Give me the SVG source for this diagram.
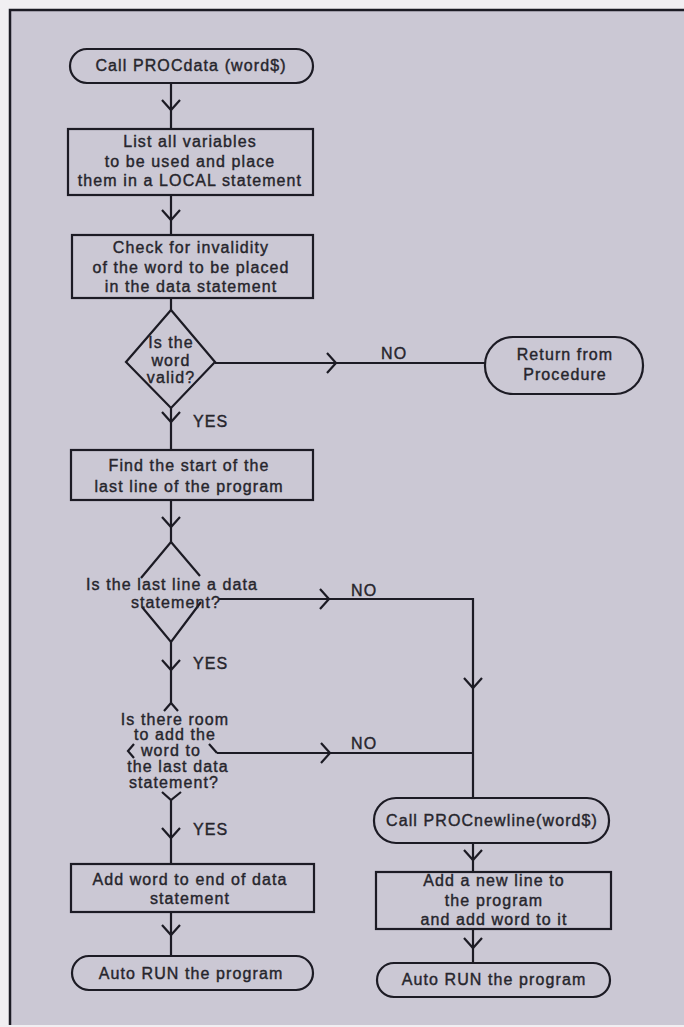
<svg xmlns="http://www.w3.org/2000/svg" xmlns:xlink="http://www.w3.org/1999/xlink" width="684" height="1027" viewBox="0 0 684 1027">
<style>
  .shape { fill: none; stroke: #1c1b24; stroke-width: 2.2; }
  .line { fill: none; stroke: #1c1b24; stroke-width: 2.2; }
  .chev { fill: none; stroke: #1c1b24; stroke-width: 2.2; stroke-linejoin: miter; }
  text { font-family: "Liberation Sans", Arial, sans-serif; font-size: 16px; letter-spacing: 1.1px; fill: #26252c; stroke: #26252c; stroke-width: 0.4; text-anchor: middle; }
  .lbl { text-anchor: start; }
</style>
<defs>
  <path id="chev-down" d="M-9,-10 L0,0 L9,-10" class="chev"/>
  <path id="chev-right" d="M-9,-10 L0,0 L-9,10" class="chev"/>
</defs>
<rect x="0" y="0" width="684" height="1027" fill="#f1eff2"/>
<rect x="10" y="10" width="674" height="1015" fill="#cbc8d4"/>
<path d="M10,1025 L10,10 L684,10" fill="none" stroke="#1c1b24" stroke-width="2.5"/>

<g id="connectors">
  <line class="line" x1="171" y1="83" x2="171" y2="129"/>
  <use xlink:href="#chev-down" x="171" y="110"/>
  <line class="line" x1="171" y1="195" x2="171" y2="235"/>
  <use xlink:href="#chev-down" x="171" y="220"/>
  <line class="line" x1="171" y1="298" x2="171" y2="310"/>
  <line class="line" x1="171" y1="408" x2="171" y2="450"/>
  <use xlink:href="#chev-down" x="171" y="422"/>
  <text class="lbl" x="193" y="427">YES</text>
  <line class="line" x1="215" y1="363" x2="485" y2="363"/>
  <use xlink:href="#chev-right" x="336" y="363"/>
  <text class="lbl" x="381" y="359">NO</text>
  <line class="line" x1="171" y1="500" x2="171" y2="542"/>
  <use xlink:href="#chev-down" x="171" y="527"/>
  <polyline class="line" points="219,599 473,599 473,798"/>
  <use xlink:href="#chev-right" x="329" y="599"/>
  <use xlink:href="#chev-down" x="473" y="688"/>
  <text class="lbl" x="351" y="596">NO</text>
  <line class="line" x1="171" y1="642" x2="171" y2="703"/>
  <use xlink:href="#chev-down" x="171" y="670"/>
  <text class="lbl" x="193" y="669">YES</text>
  <line class="line" x1="217" y1="753" x2="473" y2="753"/>
  <use xlink:href="#chev-right" x="330" y="753"/>
  <text class="lbl" x="351" y="749">NO</text>
  <line class="line" x1="171" y1="800" x2="171" y2="864"/>
  <use xlink:href="#chev-down" x="171" y="838"/>
  <text class="lbl" x="193" y="835">YES</text>
  <line class="line" x1="171" y1="912" x2="171" y2="956"/>
  <use xlink:href="#chev-down" x="171" y="935"/>
  <line class="line" x1="473" y1="843" x2="473" y2="872"/>
  <use xlink:href="#chev-down" x="473" y="860"/>
  <line class="line" x1="473" y1="929" x2="473" y2="963"/>
  <use xlink:href="#chev-down" x="473" y="948"/>
</g>

<g id="start">
  <rect class="shape" x="70" y="49" width="243" height="34" rx="17"/>
  <text x="191" y="71">Call PROCdata (word$)</text>
</g>
<g id="list-vars">
  <rect class="shape" x="68" y="129" width="245" height="66"/>
  <text x="190" y="147">List all variables</text>
  <text x="190" y="167">to be used and place</text>
  <text x="190" y="186">them in a LOCAL statement</text>
</g>
<g id="check-invalid">
  <rect class="shape" x="72" y="235" width="241" height="63"/>
  <text x="191" y="253">Check for invalidity</text>
  <text x="191" y="273">of the word to be placed</text>
  <text x="191" y="292">in the data statement</text>
</g>
<g id="is-valid">
  <polygon class="shape" points="171,310 215,362 171,408 126,362"/>
  <text x="171" y="348">Is the</text>
  <text x="171" y="366">word</text>
  <text x="171" y="383">valid?</text>
</g>
<g id="return">
  <rect class="shape" x="485" y="337" width="158" height="57" rx="28"/>
  <text x="565" y="360">Return from</text>
  <text x="565" y="380">Procedure</text>
</g>
<g id="find-start">
  <rect class="shape" x="71" y="450" width="242" height="50"/>
  <text x="189" y="471">Find the start of the</text>
  <text x="189" y="492">last line of the program</text>
</g>
<g id="is-data">
  <path class="shape" d="M141,578 L171,542 L200,576 M142,607 L171,642 L201,602"/>
  <text x="172" y="590">Is the last line a data</text>
  <text x="176" y="608">statement?</text>
</g>
<g id="is-room">
  <path class="shape" d="M164,711 L171,703 L178,711 M134,744 L128,751 L134,758 M209,744 L217,753 M162,792 L171,800 L181,792"/>
  <text x="175" y="725">Is there room</text>
  <text x="175" y="740">to add the</text>
  <text x="171" y="756">word to</text>
  <text x="178" y="772">the last data</text>
  <text x="174" y="788">statement?</text>
</g>
<g id="add-word">
  <rect class="shape" x="71" y="864" width="243" height="48"/>
  <text x="190" y="885">Add word to end of data</text>
  <text x="190" y="904">statement</text>
</g>
<g id="run-left">
  <rect class="shape" x="72" y="956" width="241" height="34" rx="17"/>
  <text x="191" y="979">Auto RUN the program</text>
</g>
<g id="newline">
  <rect class="shape" x="374" y="798" width="235" height="45" rx="22"/>
  <text x="492" y="826">Call PROCnewline(word$)</text>
</g>
<g id="add-line">
  <rect class="shape" x="376" y="872" width="235" height="57"/>
  <text x="494" y="886">Add a new line to</text>
  <text x="494" y="906">the program</text>
  <text x="494" y="925">and add word to it</text>
</g>
<g id="run-right">
  <rect class="shape" x="377" y="963" width="233" height="34" rx="17"/>
  <text x="494" y="985">Auto RUN the program</text>
</g>
</svg>
